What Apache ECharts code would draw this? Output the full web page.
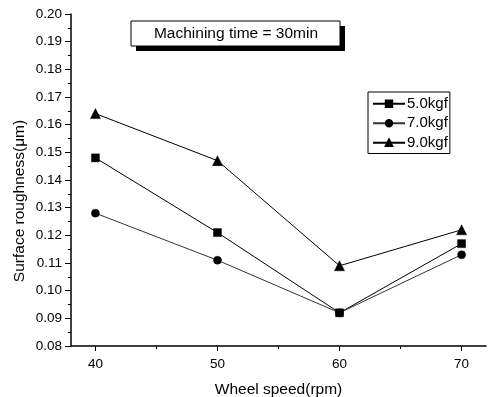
<!DOCTYPE html>
<html><head><meta charset="utf-8">
<script src="https://cdn.jsdelivr.net/npm/echarts@6/dist/echarts.min.js"></script>
<style>html,body{margin:0;padding:0;background:#fff}#c{width:491px;height:397px}</style>
</head><body><div id="c"></div>
<script>
var speeds = [40, 50, 60, 70];
var s5 = [0.148, 0.121, 0.092, 0.117];
var s7 = [0.128, 0.111, 0.092, 0.113];
var s9 = [0.164, 0.147, 0.109, 0.122];
var seriesNames = ['5.0kgf', '7.0kgf', '9.0kgf'];
var xTicks = [40, 50, 60, 70];
var xMinorTicks = [45, 55, 65];

function pts(v){ return speeds.map(function(x,i){ return [x, v[i]]; }); }
var FONT = 'Liberation Sans, Arial, sans-serif';
var chart = echarts.init(document.getElementById('c'), null, {renderer:'canvas'});
var grid = {left:71, right:5, top:14, bottom:51, containLabel:false, outerBoundsMode:'none'};
function mk(name, data, sym, size, color){
  return {name:name, type:'line', data:pts(data), symbol:sym, symbolSize:size,
    lineStyle:{color:color, width:1}, itemStyle:{color:'#000', borderColor:'#000', borderWidth:0.5},
    animation:false, z:3};
}
chart.setOption({
  animation:false,
  grid:grid,
  xAxis:[{
    type:'value', min:38, max:72, position:'bottom',
    name:'Wheel speed(rpm)', nameLocation:'middle', nameGap:36,
    nameTextStyle:{fontFamily:FONT, fontSize:15.5, color:'#000'},
    axisLine:{lineStyle:{color:'#000', width:1.5}},
    axisTick:{show:true, inside:false, length:5, customValues:xTicks, lineStyle:{color:'#000'}},
    axisLabel:{customValues:xTicks, margin:11, fontFamily:FONT, fontSize:13.5, color:'#000'},
    splitLine:{show:false}
  },{
    type:'value', min:38, max:72, position:'bottom',
    axisLine:{show:false},
    axisTick:{show:true, inside:false, length:3, customValues:xMinorTicks, lineStyle:{color:'#000'}},
    axisLabel:{show:false}, splitLine:{show:false}
  }],
  yAxis:{
    type:'value', min:0.08, max:0.20, interval:0.01,
    axisLine:{show:true, lineStyle:{color:'#000', width:1.5}},
    axisTick:{show:true, inside:false, length:6, lineStyle:{color:'#000'}},
    minorTick:{show:true, splitNumber:2, length:3, lineStyle:{color:'#000'}},
    axisLabel:{formatter:function(v){return v.toFixed(2);}, margin:9, fontFamily:FONT, fontSize:13.5, color:'#000'},
    splitLine:{show:false}
  },
  legend:{
    data:seriesNames, orient:'vertical', left:368, top:92,
    borderColor:'#000', borderWidth:1, padding:[4,2,3,4],
    itemWidth:32, itemHeight:8, itemGap:4,
    textStyle:{fontFamily:FONT, fontSize:15, lineHeight:15.5, color:'#000', padding:[0,0,0,-3]}
  },
  series:[
    mk(seriesNames[0], s5, 'rect', 8, '#000'),
    mk(seriesNames[1], s7, 'circle', 8, '#333'),
    mk(seriesNames[2], s9, 'triangle', 10, '#000')
  ],
  graphic:[
    {type:'rect', shape:{x:136, y:26, width:209, height:25}, style:{fill:'#000'}, z:10},
    {type:'rect', shape:{x:131, y:21, width:209, height:25}, style:{fill:'#fff', stroke:'#000', lineWidth:1}, z:11},
    {type:'text', x:236, y:34, z:12, style:{text:'Machining time = 30min', fontFamily:FONT, fontSize:15.5, fill:'#000', align:'center', verticalAlign:'middle'}},
    {type:'text', x:20, y:201, rotation:Math.PI/2, z:12, style:{text:'Surface roughness(\u03bcm)', fontFamily:FONT, fontSize:15.5, fill:'#000', align:'center', verticalAlign:'middle'}}
  ]
});
</script></body></html>
